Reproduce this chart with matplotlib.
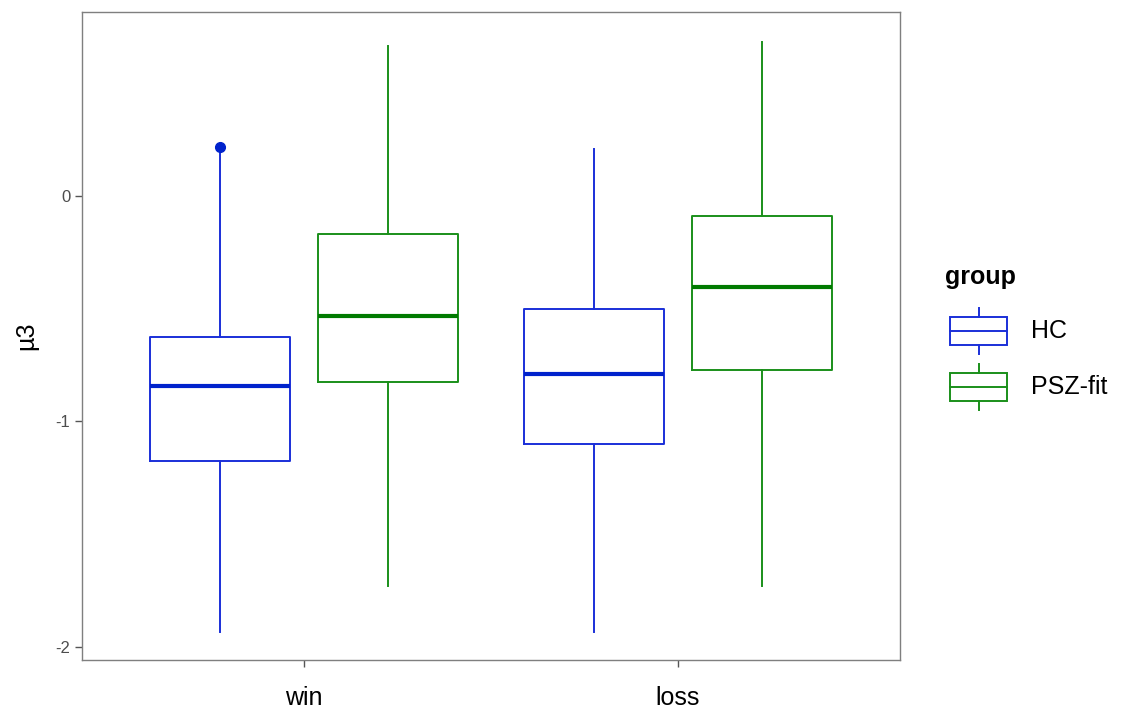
import matplotlib.pyplot as plt
from matplotlib.patches import Rectangle

plt.rcParams['font.family'] = ['Liberation Sans', 'DejaVu Sans']

conditions = ['win', 'loss']
groups = ['HC', 'PSZ-fit']
colors = {'HC': '#1a2fd8', 'PSZ-fit': '#1a8f1a'}
median_colors = {'HC': '#0022cc', 'PSZ-fit': '#007a00'}

# five-number summaries per group, one entry per condition
hc_low = [-1.933, -1.933]
hc_q1 = [-1.175, -1.100]
hc_med = [-0.843, -0.789]
hc_q3 = [-0.625, -0.501]
hc_high = [0.205, 0.208]
hc_fliers = [[0.217], []]

psz_low = [-1.729, -1.729]
psz_q1 = [-0.825, -0.772]
psz_med = [-0.532, -0.404]
psz_q3 = [-0.168, -0.089]
psz_high = [0.665, 0.683]
psz_fliers = [[], []]

summaries = {
    'HC': (hc_low, hc_q1, hc_med, hc_q3, hc_high, hc_fliers),
    'PSZ-fit': (psz_low, psz_q1, psz_med, psz_q3, psz_high, psz_fliers),
}

fig = plt.figure(figsize=(11.31, 7.15), dpi=100)
ax = fig.add_axes([82 / 1131, 1 - 660 / 715, 818 / 1131, 648 / 715])

offsets = {'HC': -0.225, 'PSZ-fit': 0.225}
for g in groups:
    lo, q1, med, q3, hi, fl = summaries[g]
    stats = [dict(whislo=lo[i], q1=q1[i], med=med[i], q3=q3[i], whishi=hi[i], fliers=fl[i])
             for i in range(len(conditions))]
    pos = [i + 1 + offsets[g] for i in range(len(conditions))]
    c = colors[g]
    ax.bxp(stats, positions=pos, widths=0.375, showcaps=False,
           boxprops=dict(color=c, linewidth=1.4),
           whiskerprops=dict(color=c, linewidth=1.4),
           medianprops=dict(color=median_colors[g], linewidth=3),
           flierprops=dict(marker='o', markerfacecolor=median_colors[g],
                           markeredgecolor=median_colors[g], markersize=7))

ax.set_xlim(0.406, 2.594)
ax.set_ylim(-2.058, 0.816)
ax.set_xticks([1, 2])
ax.set_xticklabels(conditions, fontsize=18, color='black')
ax.set_yticks([0, -1, -2])
ax.set_yticklabels(['0', '-1', '-2'], fontsize=12, color='#4d4d4d')
ax.tick_params(axis='both', color='#555555', length=5, width=1)
ax.tick_params(axis='x', pad=14)
ax.set_ylabel('µ3', fontsize=18, labelpad=12)
for s in ax.spines.values():
    s.set_color('#7f7f7f')
    s.set_linewidth(1)

# legend drawn in its own pixel-space axes
lg = fig.add_axes([0, 0, 1, 1], facecolor='none')
lg.set_xlim(0, 1131)
lg.set_ylim(715, 0)
lg.axis('off')
lg.text(945, 277, 'group', fontsize=18, fontweight='bold', va='center', ha='left')
key_rows = {'HC': 331, 'PSZ-fit': 387}
for g in groups:
    yc = key_rows[g]
    c = colors[g]
    lg.add_patch(Rectangle((950, yc - 14), 57, 28, fill=False, edgecolor=c, linewidth=1.4))
    lg.plot([950, 1007], [yc, yc], color=c, linewidth=1.4)
    lg.plot([979, 979], [yc - 23, yc - 14], color=c, linewidth=1.4)
    lg.plot([979, 979], [yc + 14, yc + 23], color=c, linewidth=1.4)
    lg.text(1031, yc, g, fontsize=18, va='center', ha='left')

fig.savefig('out.png', dpi=100)
